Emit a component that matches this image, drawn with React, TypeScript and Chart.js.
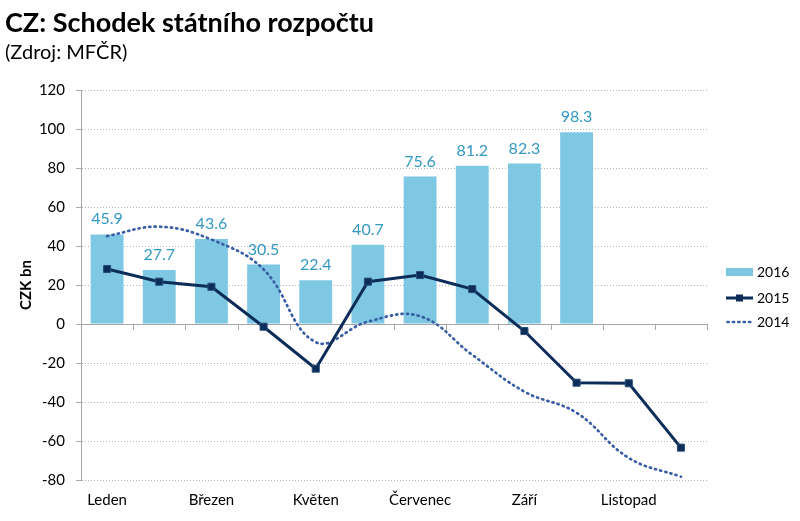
import React, { useEffect, useRef } from 'react';
import { Chart, registerables } from 'chart.js';

Chart.register(...registerables);

const months = ['Leden', 'Únor', 'Březen', 'Duben', 'Květen', 'Červen', 'Červenec', 'Srpen', 'Září', 'Říjen', 'Listopad', 'Prosinec'];
const shownMonthLabels = ['Leden', '', 'Březen', '', 'Květen', '', 'Červenec', '', 'Září', '', 'Listopad', ''];
const values2016 = [45.9, 27.7, 43.6, 30.5, 22.4, 40.7, 75.6, 81.2, 82.3, 98.3, null, null];
const values2015 = [28.2, 21.7, 19.1, -1.4, -22.9, 21.7, 25.1, 17.9, -3.6, -30.1, -30.4, -63.4];
const values2014 = [45.1, 49.9, 43.3, 28.0, -9.3, 1.2, 4.0, -15.8, -34.7, -45.5, -68.7, -78.3];
const seriesNames = ['2016', '2015', '2014'];
const yMin = -80;
const yMax = 120;
const yStep = 20;
const titleText = 'CZ: Schodek státního rozpočtu';
const subtitleText = '(Zdroj: MFČR)';
const yTitleText = 'CZK bn';

const FONT = 'Lato, "Open Sans", sans-serif';
const C2016 = '#7EC8E3';
const C2015 = '#0C2D5A';
const C2014 = '#3A5EA6';
const CLABEL = '#3399C1';
const CGRID = '#A6A6A6';
const DOT_DASH = [1.2, 4.2];

const decorPlugin = {
  id: 'decor',
  beforeDatasetsDraw(chart: any) {
    const { ctx, chartArea, scales } = chart;
    const y0 = scales.y.getPixelForValue(0);
    ctx.save();
    ctx.strokeStyle = CGRID;
    ctx.lineWidth = 1;
    ctx.beginPath();
    ctx.moveTo(chartArea.left, Math.round(y0) + 0.5);
    ctx.lineTo(chartArea.right, Math.round(y0) + 0.5);
    for (let i = 1; i <= months.length; i++) {
      const x = Math.round(scales.x.getPixelForValue(i - 0.5)) + 0.5;
      ctx.moveTo(x, y0);
      ctx.lineTo(x, y0 + 6);
    }
    ctx.stroke();
    ctx.restore();
  },
  afterDatasetsDraw(chart: any) {
    const { ctx } = chart;
    const meta = chart.getDatasetMeta(0);
    ctx.save();
    ctx.fillStyle = CLABEL;
    ctx.font = `16px ${FONT}`;
    ctx.textAlign = 'center';
    ctx.textBaseline = 'alphabetic';
    meta.data.forEach((bar: any, i: number) => {
      const v = values2016[i];
      if (v === null || v === undefined) return;
      ctx.fillText(v.toFixed(1), bar.x, bar.y - 10);
    });
    ctx.restore();
  },
  afterDraw(chart: any) {
    const { ctx } = chart;
    ctx.save();
    ctx.fillStyle = '#000';
    ctx.textAlign = 'left';
    ctx.textBaseline = 'alphabetic';
    ctx.font = `bold 27px ${FONT}`;
    ctx.fillText(titleText, 5, 32);
    ctx.font = `20px ${FONT}`;
    ctx.fillText(subtitleText, 5, 59);

    // legend
    const lx = 726;
    const tx = 757;
    ctx.font = `14px ${FONT}`;
    ctx.textBaseline = 'middle';
    ctx.fillStyle = C2016;
    ctx.fillRect(lx, 268, 27, 8);
    ctx.fillStyle = '#000';
    ctx.fillText(seriesNames[0], tx, 272);

    ctx.strokeStyle = C2015;
    ctx.lineWidth = 3;
    ctx.beginPath();
    ctx.moveTo(lx, 298);
    ctx.lineTo(lx + 27, 298);
    ctx.stroke();
    ctx.fillStyle = C2015;
    ctx.fillRect(lx + 13.5 - 3.5, 298 - 3.5, 7, 7);
    ctx.fillStyle = '#000';
    ctx.fillText(seriesNames[1], tx, 298);

    ctx.strokeStyle = C2014;
    ctx.lineWidth = 2.7;
    ctx.lineCap = 'round';
    ctx.setLineDash(DOT_DASH);
    ctx.beginPath();
    ctx.moveTo(lx + 1.5, 322);
    ctx.lineTo(lx + 27, 322);
    ctx.stroke();
    ctx.setLineDash([]);
    ctx.fillStyle = '#000';
    ctx.fillText(seriesNames[2], tx, 322);
    ctx.restore();
  },
};

export default function App() {
  const canvasRef = useRef<HTMLCanvasElement | null>(null);

  useEffect(() => {
    document.body.style.margin = '0';
    const canvas = canvasRef.current;
    if (!canvas) return;
    const chart = new Chart(canvas, {
      type: 'bar',
      data: {
        labels: months,
        datasets: [
          {
            type: 'bar',
            label: seriesNames[0],
            data: values2016 as any,
            backgroundColor: C2016,
            barPercentage: 0.63,
            categoryPercentage: 1,
            order: 3,
          },
          {
            type: 'line',
            label: seriesNames[1],
            data: values2015,
            borderColor: C2015,
            backgroundColor: C2015,
            borderWidth: 3,
            pointStyle: 'rect',
            pointRadius: 5,
            pointBackgroundColor: C2015,
            pointBorderColor: '#2a4d7a',
            pointBorderWidth: 1,
            tension: 0,
            order: 1,
          },
          {
            type: 'line',
            label: seriesNames[2],
            data: values2014,
            borderColor: C2014,
            borderWidth: 2.7,
            borderDash: DOT_DASH,
            borderCapStyle: 'round',
            pointRadius: 0,
            tension: 0.4,
            order: 2,
          },
        ] as any,
      },
      options: {
        animation: false,
        responsive: true,
        maintainAspectRatio: false,
        events: [],
        layout: { padding: { left: 0, top: 90, right: 93, bottom: 0 } },
        plugins: {
          legend: { display: false },
          tooltip: { enabled: false },
        },
        scales: {
          x: {
            type: 'category',
            offset: true,
            grid: { display: false, drawTicks: false },
            border: { display: false },
            ticks: {
              autoSkip: false,
              maxRotation: 0,
              padding: 11,
              color: '#000',
              font: { family: FONT, size: 15 },
              callback: (_v: any, i: number) => shownMonthLabels[i],
            },
            afterFit: (scale: any) => {
              scale.height = 41;
            },
          },
          y: {
            min: yMin,
            max: yMax,
            ticks: {
              stepSize: yStep,
              padding: 11,
              color: '#000',
              font: { family: FONT, size: 15 },
            },
            grid: {
              color: (c: any) => (c.tick && c.tick.value === 0 ? 'rgba(0,0,0,0)' : '#B4B4B4'),
              tickColor: CGRID,
              tickLength: 5,
              lineWidth: 1,
            },
            border: { display: true, color: CGRID, width: 1, dash: [1, 2] },
            title: {
              display: true,
              text: yTitleText,
              color: '#000',
              font: { family: FONT, size: 15, weight: 'bold' },
              padding: { top: 17, bottom: 0 },
            },
            afterFit: (scale: any) => {
              scale.width = 81;
            },
          },
        },
      },
      plugins: [decorPlugin],
    });
    return () => chart.destroy();
  }, []);

  return (
    <div style={{ position: 'absolute', left: 0, top: 0, width: 800, height: 521 }}>
      <canvas ref={canvasRef} />
    </div>
  );
}
